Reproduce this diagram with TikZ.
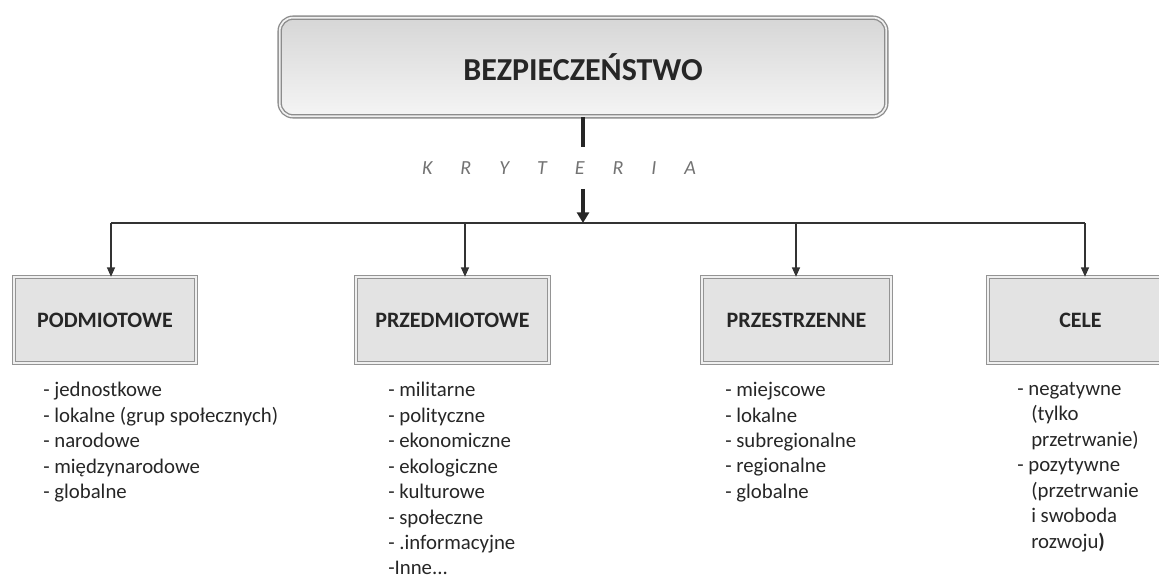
\documentclass[tikz,border=0pt]{standalone}
\usepackage{fontspec}
\setmainfont{Carlito}
\usetikzlibrary{positioning, calc}
\usetikzlibrary{arrows.meta}
\newcommand\krytfont{\itshape\fontsize{15}{17}\selectfont\spaceskip=21pt\relax}

\begin{document}
\begin{tikzpicture}[x=0.75pt,y=-0.75pt,draw=black!80,>={Triangle[length=7pt,width=6pt]}]
	\useasboundingbox (0,0) rectangle (1159,579);
	\clip (0,0) rectangle (1159,579);
	\def \boxrow{320}
	\def \listrow{382}
	\tikzstyle{top-node}=[rectangle,rounded corners=10pt,draw=black!45,double=black!6,double distance=1.3pt,line width=1pt,top color=black!16,bottom color=black!4,minimum width=455pt,minimum height=74pt,font=\bfseries\fontsize{24}{27}\selectfont,text=black!85]
	\tikzstyle{c-node}=[rectangle,draw=black!42,double=black!6,double distance=1.4pt,line width=0.9pt,fill=black!11,minimum width=136pt,minimum height=64pt,font=\bfseries\fontsize{16.5}{19}\selectfont,text=black!85]
	\tikzstyle{kryt}=[inner sep=0pt,minimum height=30.75pt,text=black!55,font=\krytfont]
	\tikzstyle{annot}=[align=left,anchor=north west,inner sep=0pt,text=black!85,font=\fontsize{15.6}{19.1}\selectfont]
	% top
	\node[top-node] (top) at (583,67) {BEZPIECZEŃSTWO};
	\node[kryt] (kryt) at (559,168) {K R Y T E R I A};
	\coordinate (hub) at (583,223);
	\coordinate (j1) at (111,223);
	\coordinate (j2) at (465,223);
	\coordinate (j3) at (796,223);
	\coordinate (j4) at (1085,223);

	% criteria boxes
	\node[c-node] (pod) at (105,\boxrow) {PODMIOTOWE};
	\node[c-node,minimum width=145pt] (prz) at (452.5,\boxrow) {PRZEDMIOTOWE};
	\node[c-node,minimum width=142pt] (prs) at (796.5,\boxrow) {PRZESTRZENNE};
	\node[c-node,minimum width=145pt] (cel) at (1084.5,\boxrow) {\hspace*{-6pt}CELE};

	% lists
	\node[annot] (pod-list) at (43,\listrow) {- jednostkowe\\- lokalne (grup społecznych)\\- narodowe\\- międzynarodowe\\- globalne};
	\node[annot] (prz-list) at (388,\listrow) {- militarne\\- polityczne\\- ekonomiczne\\- ekologiczne\\- kulturowe\\- społeczne\\- .informacyjne\\-Inne...};
	\node[annot] (prs-list) at (725,\listrow) {- miejscowe\\- lokalne\\- subregionalne\\- regionalne\\- globalne};
	\node[annot] (cel-list) at (1017,\listrow) {- negatywne\\\hspace*{10.5pt}(tylko\\\hspace*{10.5pt}przetrwanie)\\- pozytywne\\\hspace*{10.5pt}(przetrwanie\\\hspace*{10.5pt}i swoboda\\\hspace*{10.5pt}rozwoju\textbf{)}};

	% connectors
	\draw[line width=3pt,draw=black!85] (top.south) -- (top.south |- kryt.north);
	\draw[line width=3pt,draw=black!85,-{Triangle[length=8pt,width=9pt]}] (top.south |- kryt.south) -- (hub);
	\draw[line width=0.9pt] (j1) -- (j4);
	\path[line width=0.9pt]
		(j1)	edge[->]	(j1 |- pod.north)
		(j2)	edge[->]	(j2 |- prz.north)
		(j3)	edge[->]	(j3 |- prs.north)
		(j4)	edge[->]	(j4 |- cel.north);
\end{tikzpicture}
\end{document}
